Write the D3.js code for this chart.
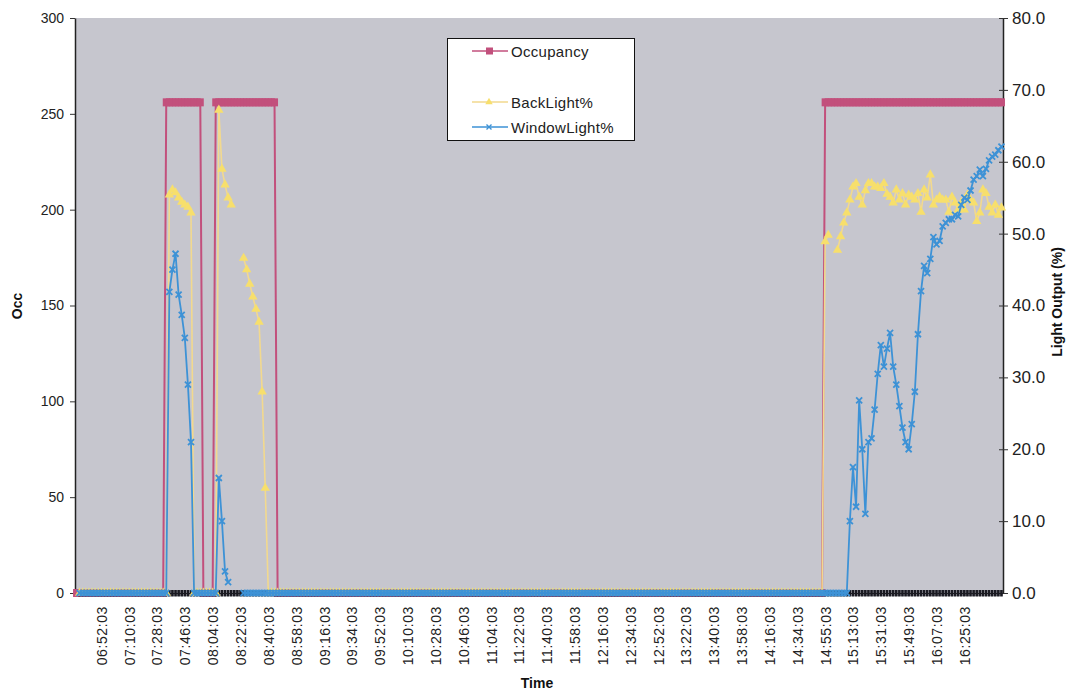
<!DOCTYPE html>
<html><head><meta charset="utf-8">
<script src="https://cdn.jsdelivr.net/npm/d3@7"></script>
<style>body{margin:0;background:#fff;} svg{display:block;font-family:"Liberation Sans",Arial,sans-serif;}</style>
</head><body><svg id="c" width="1073" height="692"></svg>
<script>
// ---- tick labels (shown every 9th category, starting at category 8) ----
const tickLabels = ["06:52:03","07:10:03","07:28:03","07:46:03","08:04:03","08:22:03","08:40:03","08:58:03",
  "09:16:03","09:34:03","09:52:03","10:10:03","10:28:03","10:46:03","11:04:03","11:22:03","11:40:03",
  "11:58:03","12:16:03","12:34:03","12:52:03","13:22:03","13:40:03","13:58:03","14:16:03","14:34:03",
  "14:55:03","15:13:03","15:31:03","15:49:03","16:07:03","16:25:03"];
const leftTicks = [0,50,100,150,200,250,300];
const rightTicks = [0,10,20,30,40,50,60,70,80];

// ---- series (one value per category, 300 categories, rows of 10) ----
const occupancy = [
0,0,0,0,0,0,0,0,0,0,
0,0,0,0,0,0,0,0,0,0,
0,0,0,0,0,0,0,0,0,256,
256,256,256,256,256,256,256,256,256,256,
256,0,0,0,0,256,256,256,256,256,
256,256,256,256,256,256,256,256,256,256,
256,256,256,256,256,0,0,0,0,0,
0,0,0,0,0,0,0,0,0,0,
0,0,0,0,0,0,0,0,0,0,
0,0,0,0,0,0,0,0,0,0,
0,0,0,0,0,0,0,0,0,0,
0,0,0,0,0,0,0,0,0,0,
0,0,0,0,0,0,0,0,0,0,
0,0,0,0,0,0,0,0,0,0,
0,0,0,0,0,0,0,0,0,0,
0,0,0,0,0,0,0,0,0,0,
0,0,0,0,0,0,0,0,0,0,
0,0,0,0,0,0,0,0,0,0,
0,0,0,0,0,0,0,0,0,0,
0,0,0,0,0,0,0,0,0,0,
0,0,0,0,0,0,0,0,0,0,
0,0,0,0,0,0,0,0,0,0,
0,0,0,0,0,0,0,0,0,0,
0,0,0,0,0,0,0,0,0,0,
0,0,256,256,256,256,256,256,256,256,
256,256,256,256,256,256,256,256,256,256,
256,256,256,256,256,256,256,256,256,256,
256,256,256,256,256,256,256,256,256,256,
256,256,256,256,256,256,256,256,256,256,
256,256,256,256,256,256,256,256,256,256];

const hiddenBase = [
null,0,0,0,0,0,0,0,0,0,
0,0,0,0,0,0,0,0,0,0,
0,0,0,0,0,0,0,0,0,0,
0,0,0,0,0,0,0,0,0,0,
0,0,0,0,0,0,0,0,0,0,
0,0,0,0,0,0,0,0,0,0,
0,0,0,0,0,0,0,0,0,0,
0,0,0,0,0,0,0,0,0,0,
0,0,0,0,0,0,0,0,0,0,
0,0,0,0,0,0,0,0,0,0,
0,0,0,0,0,0,0,0,0,0,
0,0,0,0,0,0,0,0,0,0,
0,0,0,0,0,0,0,0,0,0,
0,0,0,0,0,0,0,0,0,0,
0,0,0,0,0,0,0,0,0,0,
0,0,0,0,0,0,0,0,0,0,
0,0,0,0,0,0,0,0,0,0,
0,0,0,0,0,0,0,0,0,0,
0,0,0,0,0,0,0,0,0,0,
0,0,0,0,0,0,0,0,0,0,
0,0,0,0,0,0,0,0,0,0,
0,0,0,0,0,0,0,0,0,0,
0,0,0,0,0,0,0,0,0,0,
0,0,0,0,0,0,0,0,0,0,
0,0,0,0,0,0,0,0,0,0,
0,0,0,0,0,0,0,0,0,0,
0,0,0,0,0,0,0,0,0,0,
0,0,0,0,0,0,0,0,0,0,
0,0,0,0,0,0,0,0,0,0,
0,0,0,0,0,0,0,0,0,0];

const backLight = [
null,0,0,0,0,0,0,0,0,0,
0,0,0,0,0,0,0,0,0,0,
0,0,0,0,0,0,0,0,0,0,
55.4,56.1,55.7,55.0,54.4,54.0,53.7,52.9,0,0,
0,0,0,0,0,0,67.2,59.0,56.8,55.0,
54.0,null,null,null,46.6,45.0,43.0,41.2,39.5,37.7,
28.0,14.6,0,0,0,0,0,0,0,0,
0,0,0,0,0,0,0,0,0,0,
0,0,0,0,0,0,0,0,0,0,
0,0,0,0,0,0,0,0,0,0,
0,0,0,0,0,0,0,0,0,0,
0,0,0,0,0,0,0,0,0,0,
0,0,0,0,0,0,0,0,0,0,
0,0,0,0,0,0,0,0,0,0,
0,0,0,0,0,0,0,0,0,0,
0,0,0,0,0,0,0,0,0,0,
0,0,0,0,0,0,0,0,0,0,
0,0,0,0,0,0,0,0,0,0,
0,0,0,0,0,0,0,0,0,0,
0,0,0,0,0,0,0,0,0,0,
0,0,0,0,0,0,0,0,0,0,
0,0,0,0,0,0,0,0,0,0,
0,0,0,0,0,0,0,0,0,0,
0,0,0,0,0,0,0,0,0,0,
0,0,48.9,49.8,null,null,47.7,49.6,51.5,52.9,
54.7,56.5,57.0,55.1,54.0,56.0,57.0,57.0,56.5,56.5,
56.3,57.0,55.5,55.1,54.3,56.1,54.7,55.6,54.0,55.4,
55.1,54.7,55.6,53.0,56.1,55.0,58.2,54.0,54.7,55.1,
54.7,54.7,53.0,55.1,54.3,53.3,54.3,53.3,55.4,54.7,
54.3,51.7,52.9,56.1,55.6,53.7,52.9,54.0,52.6,53.6];

const windowLight = [
null,0,0,0,0,0,0,0,0,0,
0,0,0,0,0,0,0,0,0,0,
0,0,0,0,0,0,0,0,0,0,
41.9,45.0,47.2,41.5,38.7,35.5,29.0,21.0,0,0,
0,0,0,0,0,0,16.0,10.0,3.0,1.5,
null,null,null,null,0,0,0,0,0,0,
0,0,0,0,0,0,0,0,0,0,
0,0,0,0,0,0,0,0,0,0,
0,0,0,0,0,0,0,0,0,0,
0,0,0,0,0,0,0,0,0,0,
0,0,0,0,0,0,0,0,0,0,
0,0,0,0,0,0,0,0,0,0,
0,0,0,0,0,0,0,0,0,0,
0,0,0,0,0,0,0,0,0,0,
0,0,0,0,0,0,0,0,0,0,
0,0,0,0,0,0,0,0,0,0,
0,0,0,0,0,0,0,0,0,0,
0,0,0,0,0,0,0,0,0,0,
0,0,0,0,0,0,0,0,0,0,
0,0,0,0,0,0,0,0,0,0,
0,0,0,0,0,0,0,0,0,0,
0,0,0,0,0,0,0,0,0,0,
0,0,0,0,0,0,0,0,0,0,
0,0,0,0,0,0,0,0,0,0,
0,0,0,0,0,0,0,0,0,0,
10.0,17.5,12.0,26.8,20.0,11.0,21.0,21.5,25.5,30.5,
34.5,31.5,34.0,36.2,31.5,29.0,26.0,23.0,21.0,20.0,
23.5,28.0,36.0,42.0,45.5,44.5,46.5,49.5,48.5,49.0,
51.0,51.5,52.0,52.0,52.6,52.4,54.0,55.0,54.7,56.0,
57.5,58.0,58.9,58.0,59.0,60.2,60.7,61.0,61.6,62.1];

// ---- layout ----
const L = 75, R = 1003, T = 18, B = 593;
const N = occupancy.length;
const TICK_START = 8, TICK_EVERY = 9;
const COL = {occ:"#c2507c", back:"#f7df6c", backLine:"#f2d98e", win:"#3d92d6", base:"#1a1a22", bg:"#c6c6ce"};

const svg = d3.select("#c");
const x = d3.scalePoint().domain(d3.range(N)).range([L, R]).padding(0.5);
const yL = d3.scaleLinear().domain([0, 300]).range([B, T]);
const yR = d3.scaleLinear().domain([0, 80]).range([B, T]);

svg.append("rect").attr("x", L).attr("y", T).attr("width", R - L).attr("height", B - T + 3).attr("fill", COL.bg);

// axes
const gl = svg.append("g").attr("transform", `translate(${L},0)`)
  .call(d3.axisLeft(yL).tickValues(leftTicks).tickSize(5).tickSizeOuter(0).tickPadding(6));
gl.selectAll("text").attr("font-size", 14).attr("fill", "#222").attr("font-family", "Liberation Sans, Arial, sans-serif");
gl.selectAll("line").attr("stroke", "#333");
gl.select(".domain").attr("stroke", "#222").attr("stroke-width", 1.5);

const gr = svg.append("g").attr("transform", `translate(${R},0)`)
  .call(d3.axisRight(yR).tickValues(rightTicks).tickFormat(d3.format(".1f")).tickSize(5).tickSizeOuter(0).tickPadding(4));
gr.selectAll("text").attr("font-size", 17).attr("fill", "#222").attr("font-family", "Liberation Sans, Arial, sans-serif");
gr.selectAll(".tick line").attr("x1", -4).attr("stroke", "#333");
gr.select(".domain").attr("stroke", "#222").attr("stroke-width", 1.5);

// x axis
const tickIdx = tickLabels.map((t, k) => TICK_START + k * TICK_EVERY);
const gx = svg.append("g").attr("transform", `translate(0,${B})`)
  .call(d3.axisBottom(x).tickValues(tickIdx).tickFormat((d) => tickLabels[(d - TICK_START) / TICK_EVERY]).tickSize(3).tickSizeOuter(0));
gx.select(".domain").attr("stroke", "#222").attr("stroke-width", 1);
gx.selectAll(".tick line").attr("stroke", "#555");
gx.selectAll("text")
  .attr("font-size", 14).attr("fill", "#222").attr("letter-spacing", "0.6px")
  .attr("font-family", "Liberation Sans, Arial, sans-serif")
  .attr("text-anchor", "end").attr("dominant-baseline", "central")
  .attr("dy", null).attr("y", 0).attr("x", 0)
  .attr("transform", "translate(0,13) rotate(-90)");

// titles
svg.append("text").attr("transform", "translate(22,306) rotate(-90)").attr("text-anchor", "middle")
  .attr("font-size", 14).attr("font-weight", "bold").attr("fill", "#111").text("Occ");
svg.append("text").attr("transform", "translate(1062,302) rotate(-90)").attr("text-anchor", "middle")
  .attr("font-size", 14).attr("font-weight", "bold").attr("fill", "#111").text("Light Output (%)");
svg.append("text").attr("x", 537).attr("y", 688).attr("text-anchor", "middle")
  .attr("font-size", 14).attr("font-weight", "bold").attr("fill", "#111").text("Time");

const plot = svg.append("g");
function pts(arr) { return arr.map((v, i) => ({i, v})); }
function drawLine(arr, y, color, w) {
  plot.append("path").datum(pts(arr))
    .attr("d", d3.line().defined(d => d.v != null).x(d => x(d.i)).y(d => y(d.v)))
    .attr("fill", "none").attr("stroke", color).attr("stroke-width", w).attr("stroke-linejoin", "round");
}
const valid = arr => pts(arr).filter(d => d.v != null);

// Occupancy
drawLine(occupancy, yL, COL.occ, 2);
plot.append("g").selectAll("rect").data(valid(occupancy)).join("rect")
  .attr("x", d => x(d.i) - 3.5).attr("y", d => yL(d.v) - 4).attr("width", 7).attr("height", 8).attr("fill", COL.occ);

// hidden baseline series (dark markers)
plot.append("g").selectAll("rect").data(valid(hiddenBase)).join("rect")
  .attr("x", d => x(d.i) - 1.3).attr("y", d => yL(d.v) - 3).attr("width", 2.6).attr("height", 6.5).attr("fill", COL.base);

// BackLight%
drawLine(backLight, yR, COL.backLine, 1.6);
const tri = d3.symbol().type(d3.symbolTriangle).size(38);
plot.append("g").selectAll("path").data(valid(backLight)).join("path")
  .attr("d", tri).attr("transform", d => `translate(${x(d.i)},${yR(d.v)})`).attr("fill", COL.back);

// WindowLight%
drawLine(windowLight, yR, COL.win, 1.8);
plot.append("g").selectAll("path").data(valid(windowLight)).join("path")
  .attr("d", "M-3,-3L3,3M-3,3L3,-3").attr("transform", d => `translate(${x(d.i)},${yR(d.v)})`)
  .attr("stroke", COL.win).attr("stroke-width", 1.8).attr("fill", "none");

// legend
const lg = svg.append("g");
lg.append("rect").attr("x", 447.5).attr("y", 38.5).attr("width", 187).attr("height", 102)
  .attr("fill", "#fff").attr("stroke", "#111").attr("stroke-width", 1);
const items = [
  {name: "Occupancy", y: 51, key: "occ"},
  {name: "BackLight%", y: 102, key: "back"},
  {name: "WindowLight%", y: 127, key: "win"}
];
items.forEach(it => {
  const c = it.key === "occ" ? COL.occ : it.key === "back" ? COL.backLine : COL.win;
  lg.append("line").attr("x1", 472).attr("x2", 508).attr("y1", it.y).attr("y2", it.y)
    .attr("stroke", c).attr("stroke-width", it.key === "occ" ? 1.5 : 1.3);
  if (it.key === "occ") lg.append("rect").attr("x", 486).attr("y", it.y - 3.5).attr("width", 7).attr("height", 7).attr("fill", COL.occ);
  if (it.key === "back") lg.append("path").attr("d", d3.symbol().type(d3.symbolTriangle).size(24)).attr("transform", `translate(489,${it.y})`).attr("fill", COL.back);
  if (it.key === "win") lg.append("path").attr("d", "M-2.5,-2.5L2.5,2.5M-2.5,2.5L2.5,-2.5").attr("transform", `translate(489,${it.y})`).attr("stroke", COL.win).attr("stroke-width", 1.4);
  lg.append("text").attr("x", 511).attr("y", it.y).attr("dominant-baseline", "central")
    .attr("font-size", 15).attr("fill", "#222").attr("letter-spacing", "0.3px").text(it.name);
});
</script></body></html>
